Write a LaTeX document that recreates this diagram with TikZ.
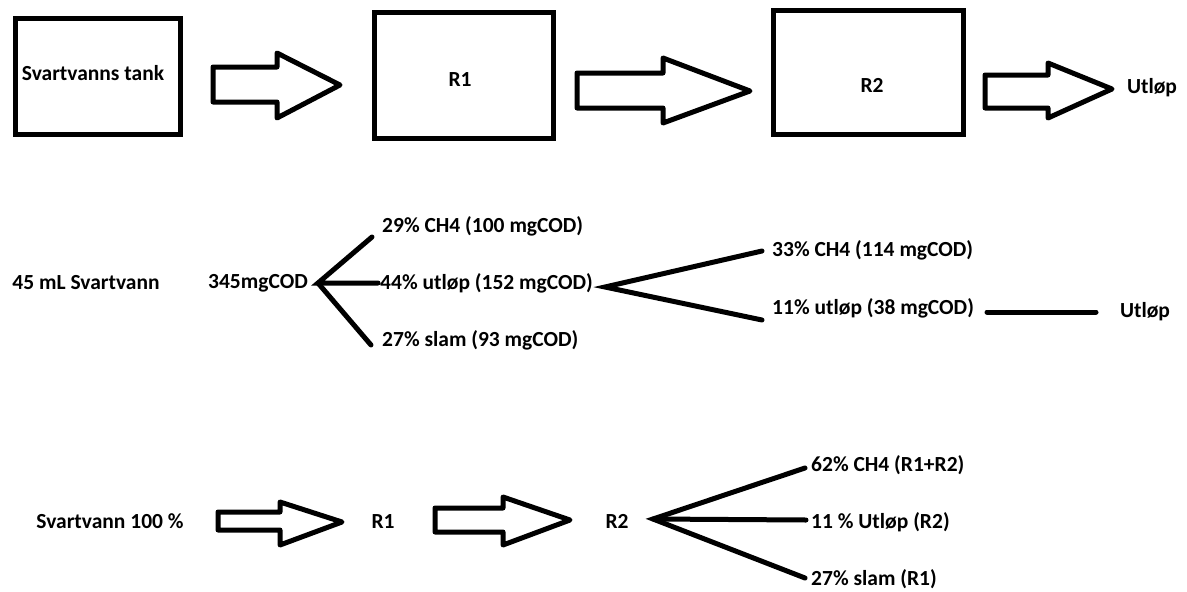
\documentclass[tikz,border=0pt]{standalone}
\usepackage{fontspec}
\setmainfont{Carlito}
\begin{document}
\begin{tikzpicture}[x=1pt,y=-1pt,
  lbl/.style={font=\bfseries\fontsize{21.5}{24}\selectfont, inner sep=1pt},
  box/.style={draw, line width=5pt},
  blk/.style={draw, line width=5pt, line join=round},
  fork/.style={line width=5pt, line cap=round}]
\useasboundingbox (0,0) rectangle (1187,592);
% ---------- top row ----------
\node[box, minimum width=165pt, minimum height=116pt] (tank) at (98,76.5) {};
\node[box, minimum width=179pt, minimum height=126pt] (r1) at (464,75.5) {};
\node[box, minimum width=190pt, minimum height=124pt] (r2) at (868.5,72.5) {};
\node[lbl] (tankt) at (93,73) {Svartvanns tank};
\node[lbl] (r1t) at (460,80) {R1};
\node[lbl] (r2t) at (872,85) {R2};
\node[lbl] (out) at (1152,88) {Utløp};
\draw[blk] (213,67) -- (277,67) -- (277,53) -- (340,85) -- (277,118) -- (277,102) -- (213,102) -- cycle;
\draw[blk] (577,73) -- (663,73) -- (663,58) -- (750,91) -- (663,123) -- (663,108) -- (577,108) -- cycle;
\draw[blk] (985,75) -- (1048,75) -- (1048,63) -- (1112,89) -- (1048,118) -- (1048,108) -- (985,108) -- cycle;
% ---------- middle row ----------
\node[lbl] (ml) at (86,283) {45 mL Svartvann};
\node[lbl] (cod) at (258,283) {345mgCOD};
\coordinate (f1) at (318,283);
\node[lbl, anchor=west] (a1) at (381,226) {29\% CH4 (100 mgCOD)};
\node[lbl, anchor=west] (a2) at (379,283) {44\% utløp (152 mgCOD)};
\node[lbl, anchor=west] (a3) at (381,340) {27\% slam (93 mgCOD)};
\coordinate (e1) at (372,237);
\coordinate (e2) at (378,283);
\coordinate (e3) at (371,345);
\draw[fork] (e1) -- (f1) -- (e2);
\draw[fork] (f1) -- (e3);
\coordinate (f2) at (605,287);
\node[lbl, anchor=west] (b1) at (771,250) {33\% CH4 (114 mgCOD)};
\node[lbl, anchor=west] (b2) at (771,308) {11\% utløp (38 mgCOD)};
\coordinate (g1) at (762,251);
\coordinate (g2) at (762,320);
\draw[fork] (g1) -- (f2) -- (g2);
\node[lbl] (out2) at (1145,312) {Utløp};
\coordinate (h1) at (987,312);
\coordinate (h2) at (1096,312);
\draw[fork] (h1) -- (h2);
% ---------- bottom row ----------
\node[lbl] (sv) at (110,521) {Svartvann 100 \%};
\node[lbl] (br1) at (383,522) {R1};
\node[lbl] (br2) at (617,521) {R2};
\draw[blk] (218,512) -- (280,512) -- (280,502) -- (342,522) -- (280,545) -- (280,530) -- (218,530) -- cycle;
\draw[blk] (435,508) -- (503,508) -- (503,497) -- (570,520) -- (503,545) -- (503,532) -- (435,532) -- cycle;
\coordinate (f3) at (653,519);
\node[lbl, anchor=west] (c1) at (810,465) {62\% CH4 (R1+R2)};
\node[lbl, anchor=west] (c2) at (810,522) {11 \% Utløp (R2)};
\node[lbl, anchor=west] (c3) at (810,579) {27\% slam (R1)};
\coordinate (k1) at (805,468);
\coordinate (k2) at (806,520);
\coordinate (k3) at (805,578);
\draw[fork] (k1) -- (f3) -- (k3);
\draw[fork] (f3) -- (k2);
\end{tikzpicture}
\end{document}
